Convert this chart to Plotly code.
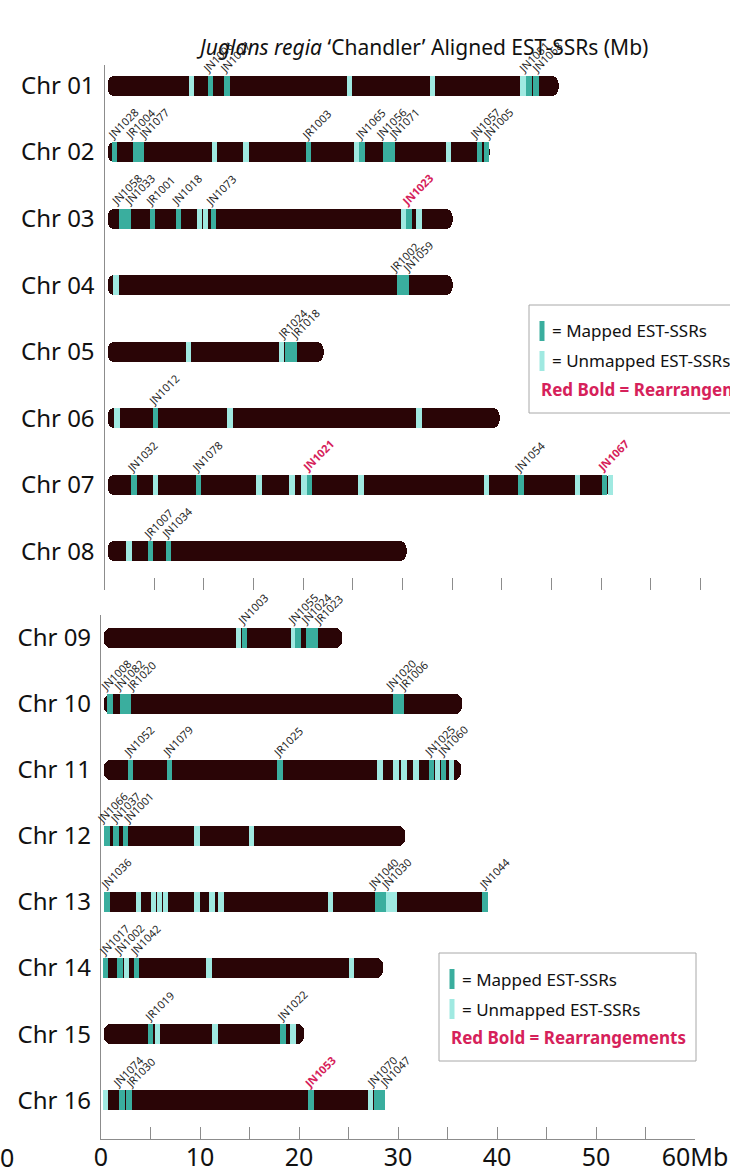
import plotly.graph_objects as go

W, H = 730, 1172
FONT = "Noto Sans"

BAR_COLOR = "#2a0506"
MAPPED_COLOR = "#3aae9e"
UNMAPPED_COLOR = "#a0e9e1"
RED = "#d6215a"
AXIS_COLOR = "#8c8c8c"

# Chromosomes and their lengths (Mb)
top_chroms = ["Chr 01", "Chr 02", "Chr 03", "Chr 04", "Chr 05", "Chr 06", "Chr 07", "Chr 08"]
top_lengths = [45.7, 38.8, 35.0, 35.0, 22.1, 39.8, 51.0, 30.4]
bottom_chroms = ["Chr 09", "Chr 10", "Chr 11", "Chr 12", "Chr 13", "Chr 14", "Chr 15", "Chr 16"]
bottom_lengths = [24.3, 36.5, 36.4, 30.7, 39.1, 28.5, 20.5, 28.5]
bar_start = 0.3

# Unmapped EST-SSRs: chromosome and position (Mb)
unmapped_chrom = (
    ["Chr 01"] * 4 + ["Chr 02"] * 4 + ["Chr 03"] * 4 + ["Chr 04"] * 1
    + ["Chr 05"] * 2 + ["Chr 06"] * 3 + ["Chr 07"] * 8 + ["Chr 08"] * 1
    + ["Chr 09"] * 2 + ["Chr 11"] * 6 + ["Chr 12"] * 2 + ["Chr 13"] * 10
    + ["Chr 14"] * 3 + ["Chr 15"] * 3 + ["Chr 16"] * 2
)
unmapped_pos = [
    8.7, 24.6, 33.0, 42.1,
    11.0, 14.2, 25.3, 34.6,
    9.5, 10.1, 30.1, 31.6,
    1.1,
    8.4, 17.8,
    1.2, 12.6, 31.6,
    5.1, 15.5, 18.85, 20.05, 25.8, 38.4, 47.6, 50.9,
    2.4,
    13.9, 19.5,
    28.2, 29.8, 30.6, 31.8, 34.0, 35.4,
    9.7, 15.2,
    3.8, 5.3, 5.9, 6.5, 9.7, 11.2, 12.1, 23.2, 29.0, 29.6,
    2.6, 10.9, 25.3,
    5.7, 11.5, 19.4,
    0.45, 27.2,
]

# Mapped EST-SSRs: chromosome, position (Mb) and marker name
mapped_chrom = (
    ["Chr 01"] * 4 + ["Chr 02"] * 9 + ["Chr 03"] * 6 + ["Chr 04"] * 2
    + ["Chr 05"] * 2 + ["Chr 06"] * 1 + ["Chr 07"] * 5 + ["Chr 08"] * 2
    + ["Chr 09"] * 4 + ["Chr 10"] * 5 + ["Chr 11"] * 5 + ["Chr 12"] * 3
    + ["Chr 13"] * 4 + ["Chr 14"] * 3 + ["Chr 15"] * 2 + ["Chr 16"] * 5
)
mapped_pos = [
    10.6, 12.3, 42.7, 43.4,
    0.96, 3.1, 3.7, 20.5, 25.9, 28.3, 28.9, 37.7, 38.4,
    1.7, 2.3, 4.8, 7.4, 10.9, 30.6,
    29.7, 30.3,
    18.45, 19.05,
    5.1,
    2.9, 9.4, 20.6, 41.9, 50.3,
    4.6, 6.4,
    14.5, 19.9, 21.0, 21.6,
    0.9, 2.2, 2.8, 29.8, 30.3,
    3.0, 6.9, 18.1, 33.4, 34.6,
    0.6, 1.5, 2.5,
    0.6, 28.0, 28.5, 38.8,
    0.45, 1.9, 3.6,
    5.0, 18.4,
    2.1, 2.85, 21.2, 27.85, 28.4,
]
mapped_id = [
    "JN1006", "JN1027", "JN1051", "JN1068",
    "JN1028", "JR1004", "JN1077", "JR1003", "JN1065", "JN1056", "JN1071", "JN1057", "JN1005",
    "JN1058", "JN1033", "JR1001", "JN1018", "JN1073", "JN1023",
    "JR1002", "JN1059",
    "JR1024", "JR1018",
    "JN1012",
    "JN1032", "JN1078", "JN1021", "JN1054", "JN1067",
    "JR1007", "JN1034",
    "JN1003", "JN1055", "JN1024", "JR1023",
    "JN1008", "JN1082", "JR1020", "JN1020", "JR1006",
    "JN1052", "JN1079", "JR1025", "JN1025", "JN1060",
    "JN1066", "JN1037", "JN1001",
    "JN1036", "JN1040", "JN1030", "JN1044",
    "JN1017", "JN1002", "JN1042",
    "JR1019", "JN1022",
    "JN1074", "JR1030", "JN1053", "JN1070", "JN1047",
]
# Markers involved in rearrangements (drawn in red bold)
rearranged_ids = ["JN1023", "JN1021", "JN1067", "JN1053"]

x_ticks = [0, 5, 10, 15, 20, 25, 30, 35, 40, 45, 50, 55, 60]
x_ticktext = ["0", "", "10", "", "20", "", "30", "", "40", "", "50", "", "60Mb"]


# ---- page geometry (pixels) ----
def fx(px):
    return px / W


def fy(px):
    return 1 - px / H


BAR_PX = 20
BAND_MB = 0.55
LABEL_GAP_MB = 1.31

panels = [
    dict(names=top_chroms, lengths=top_lengths, xa="x", ya="y",
         x0=104.5, scale=9.93, row0=85.5, step=66.57, ytop=65, ybot=590),
    dict(names=bottom_chroms, lengths=bottom_lengths, xa="x2", ya="y2",
         x0=101.0, scale=9.9, row0=637.5, step=66.1, ytop=615, ybot=1139),
]


def spread(vals, gap):
    """Spread crowded label anchors apart, keeping each cluster centred."""
    order = sorted(range(len(vals)), key=lambda i: vals[i])
    clusters = []
    for i in order:
        if clusters and vals[i] - vals[clusters[-1][-1]] < gap:
            clusters[-1].append(i)
        else:
            clusters.append([i])
    out = [0.0] * len(vals)
    for c in clusters:
        mean = sum(vals[i] for i in c) / len(c)
        for k, i in enumerate(c):
            out[i] = mean + (k - (len(c) - 1) / 2) * gap
    return out


fig = go.Figure()

for p in panels:
    names, lengths = p["names"], p["lengths"]
    rows = list(range(len(names)))
    bar_w = BAR_PX / p["step"]
    common = dict(orientation="h", width=bar_w, xaxis=p["xa"], yaxis=p["ya"],
                  showlegend=False, hoverinfo="skip")

    # chromosome bodies (floating bars get all four corners rounded)
    fig.add_trace(go.Bar(y=rows, base=[bar_start] * len(rows),
                         x=[L - bar_start for L in lengths],
                         marker=dict(color=BAR_COLOR, cornerradius=7, line_width=0), **common))

    # unmapped bands
    uy = [names.index(c) for c in unmapped_chrom if c in names]
    ux = [x for c, x in zip(unmapped_chrom, unmapped_pos) if c in names]
    fig.add_trace(go.Bar(y=uy, base=[x - BAND_MB / 2 for x in ux], x=[BAND_MB] * len(ux),
                         marker=dict(color=UNMAPPED_COLOR, line_width=0), **common))

    # mapped bands
    my = [names.index(c) for c in mapped_chrom if c in names]
    mx = [x for c, x in zip(mapped_chrom, mapped_pos) if c in names]
    fig.add_trace(go.Bar(y=my, base=[x - BAND_MB / 2 for x in mx], x=[BAND_MB] * len(mx),
                         marker=dict(color=MAPPED_COLOR, line_width=0), **common))

    # rotated marker names
    for r, name in enumerate(names):
        items = [(x, m) for c, x, m in zip(mapped_chrom, mapped_pos, mapped_id) if c == name]
        if not items:
            continue
        lx = spread([x for x, _ in items], LABEL_GAP_MB)
        for (x, m), xl in zip(items, lx):
            red = m in rearranged_ids
            fig.add_annotation(
                x=xl, y=r, xref=p["xa"], yref=p["ya"],
                text=f"<b>{m}</b>" if red else m,
                textangle=-45, xanchor="left", yanchor="bottom",
                xshift=-10, yshift=BAR_PX / 2, showarrow=False,
                borderpad=0, borderwidth=0,
                font=dict(family=FONT, size=11, color=RED if red else "#1e1e1e"),
            )

top, bot = panels

fig.update_layout(
    width=W, height=H, autosize=False,
    margin=dict(l=0, r=0, t=0, b=0, pad=0, autoexpand=False),
    paper_bgcolor="white", plot_bgcolor="rgba(0,0,0,0)",
    barmode="overlay", bargap=0, showlegend=False,
    font=dict(family=FONT, color="#111111"),
    xaxis=dict(
        domain=[fx(top["x0"]), 1], range=[0, (W - top["x0"]) / top["scale"]],
        anchor="y", tickvals=x_ticks[1:], ticks="inside", ticklen=12,
        tickcolor=AXIS_COLOR, tickwidth=1, showticklabels=False, automargin=False,
        showline=False, showgrid=False, zeroline=False,
    ),
    yaxis=dict(
        domain=[fy(top["ybot"]), fy(top["ytop"])],
        range=[(top["ybot"] - top["row0"]) / top["step"], (top["ytop"] - top["row0"]) / top["step"]],
        anchor="x", tickvals=list(range(8)), ticktext=top_chroms, ticks="",
        showline=True, linecolor=AXIS_COLOR, linewidth=1.2, automargin=False,
        showgrid=False, zeroline=False, ticklabelstandoff=4,
        tickfont=dict(family=FONT, size=24, color="#111111"),
    ),
    xaxis2=dict(
        domain=[fx(bot["x0"]), fx(bot["x0"] + 60 * bot["scale"])], range=[0, 60],
        anchor="y2", tickvals=x_ticks, ticktext=x_ticktext, ticks="inside", ticklen=12,
        tickcolor=AXIS_COLOR, tickwidth=1, showline=True, linecolor=AXIS_COLOR,
        linewidth=1.2, showgrid=False, zeroline=False, ticklabelstandoff=-4, automargin=False,
        tickfont=dict(family=FONT, size=25, color="#111111"),
    ),
    yaxis2=dict(
        domain=[fy(bot["ybot"]), fy(bot["ytop"])],
        range=[(bot["ybot"] - bot["row0"]) / bot["step"], (bot["ytop"] - bot["row0"]) / bot["step"]],
        anchor="x2", tickvals=list(range(8)), ticktext=bottom_chroms, ticks="",
        showline=True, linecolor=AXIS_COLOR, linewidth=1.2, automargin=False,
        showgrid=False, zeroline=False, ticklabelstandoff=4,
        tickfont=dict(family=FONT, size=24, color="#111111"),
    ),
)

# title
fig.add_annotation(
    x=fx(422), y=fy(47), xref="paper", yref="paper", showarrow=False,
    text="<i>Juglans regia</i> \u2018Chandler\u2019 Aligned EST-SSRs (Mb)",
    font=dict(family=FONT, size=21, color="#111111"), xanchor="center", yanchor="middle",
)

# stray zero at the lower left
fig.add_annotation(
    x=0, y=fy(1157), xref="paper", yref="paper", showarrow=False, text="0",
    font=dict(family=FONT, size=25, color="#111111"), xanchor="left", yanchor="middle",
    borderpad=0, borderwidth=0,
)


# key boxes
def add_key(box, sw_x, text_x, red_x, row_y):
    x0, y0, x1, y1 = box
    fig.add_shape(type="rect", xref="paper", yref="paper",
                  x0=fx(x0), x1=fx(x1), y0=fy(y1), y1=fy(y0),
                  line=dict(color="#a8a8a8", width=1), fillcolor="white", layer="below")
    for yc, col, label in [(row_y[0], MAPPED_COLOR, "= Mapped EST-SSRs"),
                           (row_y[1], UNMAPPED_COLOR, "= Unmapped EST-SSRs")]:
        fig.add_shape(type="rect", xref="paper", yref="paper",
                      x0=fx(sw_x), x1=fx(sw_x + 5), y0=fy(yc + 10), y1=fy(yc - 10),
                      line_width=0, fillcolor=col)
        fig.add_annotation(x=fx(text_x), y=fy(yc), xref="paper", yref="paper",
                           showarrow=False, text=label, xanchor="left", yanchor="middle",
                           font=dict(family=FONT, size=17, color="#111111"))
    fig.add_annotation(x=fx(red_x), y=fy(row_y[2]), xref="paper", yref="paper",
                       showarrow=False, text="<b>Red Bold = Rearrangements</b>",
                       xanchor="left", yanchor="middle",
                       font=dict(family=FONT, size=17, color=RED))


add_key((529, 305, 760, 413), 539.5, 550, 539, (331, 361, 390))
add_key((439, 953, 696, 1061), 449.5, 460, 449, (979, 1009, 1037))

fig.write_html("out.html")
